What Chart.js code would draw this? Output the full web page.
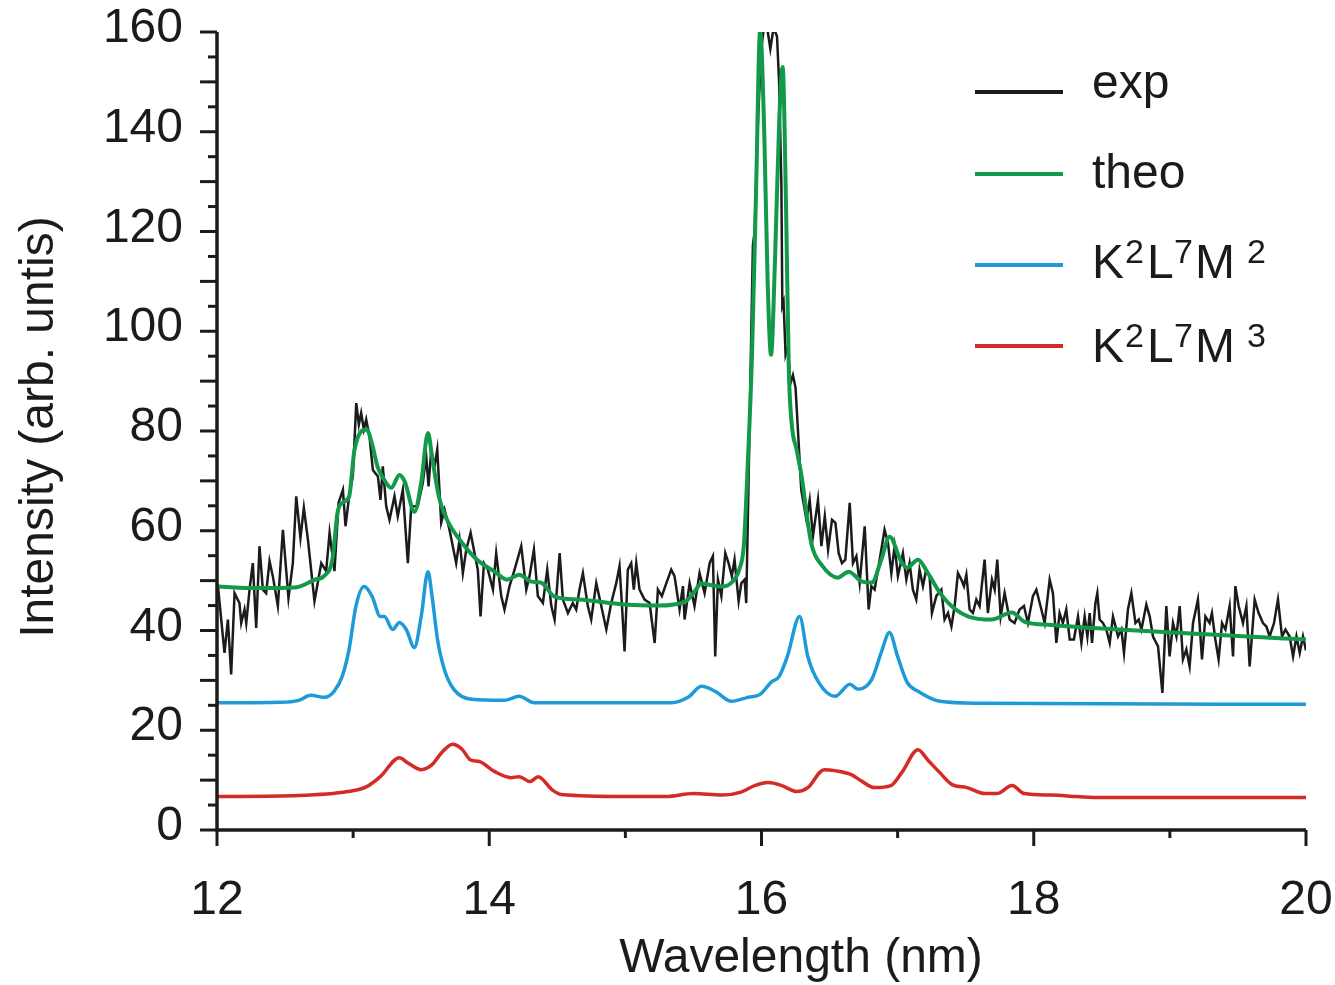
<!DOCTYPE html>
<html>
<head>
<meta charset="utf-8">
<title>Spectrum</title>
<script src="https://cdn.jsdelivr.net/npm/chart.js@4/dist/chart.umd.min.js"></script>
<style>
  html, body { margin: 0; padding: 0; background: #fff; }
  #wrap { width: 1335px; height: 985px; position: relative; }
</style>
</head>
<body>
<div id="wrap"><canvas id="chart"></canvas></div>
<script>
// axis ranges and tick labels
const xMin = 12, xMax = 20, xStep = 2;
const yMin = 0, yMax = 160, yStep = 20;
const xTitle = 'Wavelength (nm)';
const yTitle = 'Intensity (arb. untis)';

// experimental spectrum (black)
const expX = [12.0, 12.006, 12.055, 12.08, 12.104, 12.129, 12.165, 12.178, 12.202, 12.215, 12.239, 12.263, 12.288, 12.312,
  12.337, 12.361, 12.386, 12.41, 12.447, 12.484, 12.525, 12.557, 12.582, 12.613, 12.638, 12.668, 12.716, 12.766,
  12.802, 12.827, 12.863, 12.893, 12.925, 12.944, 12.974, 12.998, 13.023, 13.042, 13.059, 13.079, 13.096, 13.12,
  13.145, 13.182, 13.201, 13.218, 13.243, 13.267, 13.304, 13.328, 13.365, 13.402, 13.427, 13.475, 13.512, 13.537,
  13.554, 13.574, 13.598, 13.618, 13.647, 13.672, 13.708, 13.757, 13.782, 13.806, 13.831, 13.863, 13.892, 13.916,
  13.936, 13.961, 13.99, 14.027, 14.051, 14.088, 14.112, 14.149, 14.186, 14.235, 14.272, 14.296, 14.328, 14.357,
  14.394, 14.426, 14.456, 14.48, 14.517, 14.541, 14.578, 14.614, 14.639, 14.663, 14.688, 14.724, 14.749, 14.786,
  14.823, 14.86, 14.896, 14.933, 14.957, 14.974, 14.994, 15.018, 15.043, 15.062, 15.08, 15.104, 15.141, 15.178,
  15.215, 15.239, 15.268, 15.301, 15.337, 15.361, 15.398, 15.423, 15.435, 15.472, 15.508, 15.545, 15.582, 15.619,
  15.643, 15.66, 15.68, 15.705, 15.734, 15.758, 15.782, 15.802, 15.832, 15.852, 15.876, 15.888, 15.905, 15.925,
  15.937, 15.949, 15.974, 15.998, 16.022, 16.047, 16.065, 16.089, 16.114, 16.129, 16.146, 16.153, 16.162, 16.177,
  16.194, 16.212, 16.231, 16.25, 16.267, 16.292, 16.33, 16.354, 16.378, 16.415, 16.44, 16.465, 16.489, 16.518,
  16.543, 16.567, 16.591, 16.616, 16.648, 16.672, 16.697, 16.721, 16.758, 16.787, 16.807, 16.831, 16.868, 16.904,
  16.929, 16.954, 16.978, 17.002, 17.039, 17.064, 17.088, 17.112, 17.137, 17.161, 17.186, 17.21, 17.235, 17.252,
  17.284, 17.321, 17.345, 17.37, 17.395, 17.419, 17.443, 17.468, 17.487, 17.505, 17.529, 17.553, 17.578, 17.602,
  17.639, 17.663, 17.693, 17.713, 17.732, 17.757, 17.786, 17.823, 17.859, 17.896, 17.928, 17.957, 17.994, 18.019,
  18.056, 18.08, 18.117, 18.141, 18.166, 18.19, 18.214, 18.239, 18.264, 18.295, 18.325, 18.35, 18.374, 18.394,
  18.411, 18.428, 18.453, 18.467, 18.484, 18.508, 18.533, 18.558, 18.582, 18.619, 18.644, 18.663, 18.692, 18.717,
  18.747, 18.771, 18.791, 18.827, 18.852, 18.876, 18.913, 18.945, 18.974, 18.998, 19.023, 19.048, 19.072, 19.096,
  19.121, 19.145, 19.17, 19.206, 19.236, 19.261, 19.292, 19.309, 19.334, 19.358, 19.383, 19.408, 19.439, 19.464,
  19.481, 19.505, 19.537, 19.562, 19.586, 19.623, 19.652, 19.684, 19.709, 19.733, 19.765, 19.794, 19.824, 19.849,
  19.88, 19.905, 19.93, 19.954, 19.978, 20.0];
const expY = [48.5, 49.2, 35.5, 42.2, 31.2, 47.5, 45.5, 41.5, 44.2, 41.5, 48.2, 53.5, 40.5, 56.9,
  48.2, 47.5, 53.9, 50.9, 44.9, 60.2, 46.5, 53.5, 66.9, 58.6, 64.6, 58.2, 45.9, 53.5,
  51.9, 59.6, 51.9, 65.6, 68.2, 60.9, 67.6, 70.9, 85.6, 81.3, 83.6, 80.3, 82.3, 78.9,
  72.2, 70.9, 66.2, 72.9, 64.9, 62.2, 66.9, 62.9, 68.2, 53.5, 64.9, 64.9, 69.6, 74.9,
  68.9, 76.3, 72.9, 76.3, 61.6, 64.2, 60.2, 53.5, 58.2, 51.5, 56.2, 59.6, 55.5, 52.2,
  42.8, 53.5, 52.2, 48.2, 55.5, 46.9, 44.2, 48.9, 52.2, 56.9, 48.2, 50.9, 56.2, 46.9,
  45.5, 52.2, 44.9, 42.2, 55.5, 46.2, 43.5, 45.5, 44.2, 48.2, 51.5, 44.9, 42.2, 49.5,
  44.9, 40.2, 45.5, 49.5, 52.9, 45.5, 35.8, 52.2, 53.5, 48.2, 53.5, 48.2, 46.2, 45.5,
  37.5, 48.2, 46.9, 49.5, 52.2, 50.9, 44.2, 48.9, 42.2, 49.5, 44.9, 51.5, 47.5, 53.5,
  54.9, 34.8, 50.2, 46.9, 55.5, 53.5, 50.9, 54.2, 45.9, 49.5, 50.2, 45.5, 70.0, 100.0,
  117.3, 119.8, 142.0, 156.6, 161.9, 159.9, 156.6, 160.9, 159.1, 150.1, 129.6, 105.1, 105.9, 95.3,
  96.9, 89.5, 91.2, 88.7, 80.5, 68.2, 62.2, 66.2, 58.9, 66.2, 56.9, 62.9, 56.2, 62.2,
  61.6, 55.5, 53.5, 54.2, 65.6, 53.5, 54.9, 49.5, 60.9, 44.2, 48.9, 48.2, 54.2, 60.2,
  57.6, 51.5, 56.9, 50.9, 55.5, 50.2, 53.5, 48.2, 46.2, 52.2, 48.9, 52.2, 50.9, 43.5,
  46.9, 48.2, 42.2, 43.5, 40.8, 44.9, 51.5, 50.2, 48.9, 51.2, 44.2, 43.5, 46.2, 44.9,
  54.2, 43.5, 50.2, 48.2, 54.2, 42.8, 47.5, 42.2, 41.5, 44.2, 44.9, 41.5, 46.9, 48.2,
  44.2, 41.5, 50.2, 47.5, 37.5, 43.5, 41.5, 44.2, 38.2, 38.2, 42.8, 37.5, 42.8, 38.8,
  43.5, 37.5, 45.5, 47.5, 42.2, 41.5, 40.2, 37.5, 42.8, 38.8, 40.2, 35.5, 44.2, 47.5,
  41.5, 42.2, 40.2, 45.2, 42.8, 38.8, 36.8, 27.5, 44.9, 34.8, 41.5, 38.8, 44.9, 34.2,
  36.2, 32.8, 41.5, 46.2, 34.2, 42.8, 41.5, 43.5, 38.2, 34.2, 41.5, 40.2, 44.9, 34.8,
  48.9, 44.9, 41.5, 44.9, 32.8, 46.2, 43.5, 41.5, 40.8, 38.8, 41.5, 46.2, 38.8, 40.2,
  38.8, 34.8, 38.8, 35.5, 38.8, 36.0];

// theoretical spectrum (green)
const theoX = [12.0, 12.3, 12.57, 12.72, 12.79, 12.85, 12.885, 12.92, 12.97, 13.01, 13.1, 13.14, 13.18, 13.22,
  13.28, 13.34, 13.38, 13.45, 13.5, 13.55, 13.58, 13.63, 13.69, 13.8, 13.91, 14.04, 14.13, 14.22, 14.31, 14.38,
  14.48, 14.66, 15.0, 15.24, 15.44, 15.5, 15.56, 15.65, 15.71, 15.8, 15.84, 15.87, 15.9, 15.93, 15.96, 15.99,
  16.02, 16.045, 16.07, 16.1, 16.13, 16.155, 16.18, 16.2, 16.22, 16.26, 16.3, 16.33, 16.37, 16.44, 16.56, 16.64,
  16.74, 16.81, 16.88, 16.94, 17.03, 17.07, 17.15, 17.22, 17.31, 17.4, 17.52, 17.69, 17.84, 17.93, 18.13, 18.37,
  18.62, 19.3, 20.0];
const theoY = [48.8, 48.5, 48.6, 50.2, 51.0, 54.6, 63.6, 65.6, 66.8, 76.2, 80.3, 77.3, 72.8, 70.6,
  68.6, 71.2, 69.8, 63.8, 69.6, 79.6, 74.8, 66.8, 62.2, 57.6, 54.2, 51.8, 50.2, 51.2, 49.8, 49.6,
  46.8, 46.2, 45.2, 45.0, 45.8, 47.5, 49.4, 49.0, 48.8, 50.2, 52.5, 57.0, 74.0, 95.0, 128.0, 160.3,
  140.0, 110.0, 95.3, 115.0, 142.0, 153.0, 125.6, 93.0, 82.0, 76.0, 70.0, 63.6, 57.0, 53.2, 50.6, 51.8,
  49.8, 49.6, 54.2, 58.8, 53.6, 52.6, 54.2, 51.6, 47.6, 44.8, 42.8, 42.2, 43.6, 41.8, 41.1, 40.6,
  40.2, 39.2, 38.2];

// K2L7M2 configuration (blue)
const m2X = [12.0, 12.47, 12.6, 12.69, 12.79, 12.86, 12.92, 12.97, 13.02, 13.08, 13.14, 13.2, 13.23, 13.29,
  13.34, 13.39, 13.45, 13.5, 13.55, 13.58, 13.62, 13.67, 13.74, 13.87, 14.11, 14.22, 14.33, 15.34, 15.46,
  15.56, 15.66, 15.78, 15.9, 15.99, 16.07, 16.13, 16.19, 16.28, 16.34, 16.42, 16.54, 16.65, 16.71, 16.81,
  16.88, 16.94, 17.0, 17.07, 17.15, 17.31, 17.6, 20.0];
const m2Y = [25.5, 25.6, 26.0, 27.0, 26.6, 27.8, 30.8, 36.2, 44.8, 48.8, 46.8, 42.8, 42.8, 40.2,
  41.6, 40.2, 36.6, 42.8, 51.8, 46.8, 38.2, 32.2, 28.2, 26.2, 26.0, 26.8, 25.5, 25.5, 26.6,
  28.8, 27.8, 25.8, 26.6, 27.2, 29.6, 30.8, 34.8, 42.8, 34.8, 29.6, 26.8, 29.2, 28.2, 30.2,
  35.6, 39.6, 34.8, 29.6, 27.8, 25.8, 25.4, 25.2];

// K2L7M3 configuration (red)
const m3X = [12.0, 12.6, 12.96, 13.1, 13.2, 13.34, 13.4, 13.5, 13.58, 13.65, 13.73, 13.8, 13.86, 13.93,
  14.04, 14.16, 14.22, 14.3, 14.36, 14.46, 14.53, 15.0, 15.3, 15.5, 15.71, 15.85, 15.95, 16.05, 16.15,
  16.26, 16.34, 16.46, 16.54, 16.66, 16.73, 16.83, 16.95, 17.03, 17.15, 17.22, 17.31, 17.4, 17.51, 17.64,
  17.73, 17.84, 17.93, 18.13, 18.32, 18.5, 20.0];
const m3Y = [6.7, 6.9, 7.7, 8.7, 10.7, 14.5, 13.5, 12.1, 13.1, 15.5, 17.2, 16.2, 14.1, 13.7,
  11.7, 10.5, 10.7, 9.7, 10.7, 8.1, 7.1, 6.7, 6.7, 7.3, 7.0, 7.6, 8.9, 9.5, 8.9,
  7.7, 8.5, 12.1, 11.9, 11.1, 9.9, 8.5, 8.9, 11.5, 16.1, 14.1, 11.5, 9.1, 8.5, 7.3,
  7.3, 8.9, 7.3, 7.0, 6.7, 6.5, 6.5];

const INK = '#1b1b1b';
const FONT = "'Liberation Sans', Arial, Helvetica, sans-serif";
const COLORS = { exp: '#1b1b1b', theo: '#12994a', m2: '#1e9ad8', m3: '#d42b27' };

function pairs(xs, ys) {
  return xs.map((x, i) => ({ x: x, y: ys[i] }));
}

// legend entries: [text, superscript?, x offset from text start]
const legendItems = [
  { color: COLORS.exp, parts: [['exp', false, 0]] },
  { color: COLORS.theo, parts: [['theo', false, 0]] },
  { color: COLORS.m2, parts: [['K', false, 0], ['2', true, 33], ['L', false, 55], ['7', true, 82], ['M', false, 103], ['2', true, 155]] },
  { color: COLORS.m3, parts: [['K', false, 0], ['2', true, 33], ['L', false, 55], ['7', true, 82], ['M', false, 103], ['3', true, 155]] }
];

const axisDecor = {
  id: 'axisDecor',
  afterDraw(chart) {
    const { ctx, chartArea: a, scales: { x, y } } = chart;
    ctx.save();

    // axis lines
    ctx.strokeStyle = INK;
    ctx.lineWidth = 3.5;
    ctx.beginPath();
    ctx.moveTo(a.left, a.top);
    ctx.lineTo(a.left, a.bottom);
    ctx.lineTo(a.right, a.bottom);
    ctx.stroke();

    // y ticks: every 5, long every 10
    ctx.lineWidth = 3;
    for (let v = yMin; v <= yMax; v += 5) {
      const py = y.getPixelForValue(v);
      const len = v % 10 === 0 ? 17 : 9;
      ctx.beginPath();
      ctx.moveTo(a.left, py);
      ctx.lineTo(a.left - len, py);
      ctx.stroke();
    }
    // x ticks: every 1, long every 2
    for (let v = xMin; v <= xMax; v += 1) {
      const px = x.getPixelForValue(v);
      const len = v % 2 === 0 ? 16 : 8;
      ctx.beginPath();
      ctx.moveTo(px, a.bottom);
      ctx.lineTo(px, a.bottom + len);
      ctx.stroke();
    }

    // axis titles
    ctx.fillStyle = INK;
    ctx.font = '48px ' + FONT;
    ctx.textAlign = 'center';
    ctx.textBaseline = 'alphabetic';
    ctx.fillText(xTitle, 801, 972);
    ctx.save();
    ctx.translate(53, 427);
    ctx.rotate(-Math.PI / 2);
    ctx.fillText(yTitle, 0, 0);
    ctx.restore();

    // legend
    const lineY = [92, 174, 265, 346];
    const baseY = [98, 188, 278, 362];
    ctx.textAlign = 'left';
    legendItems.forEach((item, i) => {
      ctx.strokeStyle = item.color;
      ctx.lineWidth = 4;
      ctx.beginPath();
      ctx.moveTo(975, lineY[i]);
      ctx.lineTo(1063, lineY[i]);
      ctx.stroke();

      item.parts.forEach(([txt, sup, dx]) => {
        ctx.font = (sup ? '34px ' : '48px ') + FONT;
        ctx.fillText(txt, 1092 + dx, baseY[i] - (sup ? 15 : 0));
      });
    });

    ctx.restore();
  }
};

const ctx = document.getElementById('chart').getContext('2d');
new Chart(ctx, {
  type: 'line',
  data: {
    datasets: [
      {
        label: 'exp',
        data: pairs(expX, expY),
        borderColor: COLORS.exp,
        borderWidth: 2.5,
        pointRadius: 0,
        tension: 0,
        order: 2
      },
      {
        label: 'theo',
        data: pairs(theoX, theoY),
        borderColor: COLORS.theo,
        borderWidth: 4,
        pointRadius: 0,
        cubicInterpolationMode: 'monotone',
        order: 1
      },
      {
        label: 'K2L7M2',
        data: pairs(m2X, m2Y),
        borderColor: COLORS.m2,
        borderWidth: 3.5,
        pointRadius: 0,
        cubicInterpolationMode: 'monotone',
        order: 3
      },
      {
        label: 'K2L7M3',
        data: pairs(m3X, m3Y),
        borderColor: COLORS.m3,
        borderWidth: 3.5,
        pointRadius: 0,
        cubicInterpolationMode: 'monotone',
        order: 4
      }
    ]
  },
  options: {
    responsive: true,
    maintainAspectRatio: false,
    animation: false,
    layout: { padding: { left: 0, right: 29, top: 32, bottom: 0 } },
    plugins: {
      legend: { display: false },
      tooltip: { enabled: false }
    },
    scales: {
      x: {
        type: 'linear',
        min: xMin,
        max: xMax,
        grid: { display: false, drawTicks: false },
        border: { display: false },
        ticks: {
          stepSize: xStep,
          padding: 42,
          color: INK,
          font: { family: FONT, size: 48 },
          maxRotation: 0
        },
        afterFit(scale) {
          scale.height = 155;
          scale.paddingLeft = 0;
          scale.paddingRight = 0;
        }
      },
      y: {
        type: 'linear',
        min: yMin,
        max: yMax,
        grid: { display: false, drawTicks: false },
        border: { display: false },
        ticks: {
          stepSize: yStep,
          padding: 34,
          labelOffset: -3,
          color: INK,
          font: { family: FONT, size: 48 }
        },
        afterFit(scale) {
          scale.width = 217;
          scale.paddingTop = 0;
          scale.paddingBottom = 0;
        }
      }
    }
  },
  plugins: [axisDecor]
});
</script>
</body>
</html>
